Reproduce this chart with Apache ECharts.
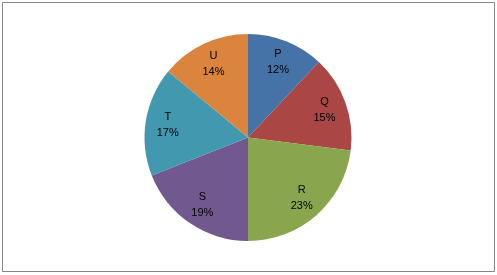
<!DOCTYPE html>
<html><head><meta charset="utf-8">
<script src="https://cdn.jsdelivr.net/npm/echarts@6/dist/echarts.min.js"></script>
<style>html,body{margin:0;padding:0;background:#fff}#c{width:497px;height:275px}</style>
</head><body><div id="c"></div>
<script>
const categories = ['P','Q','R','S','T','U'];
const values = [12,15,23,19,17,14];
const colors = ['#4572A7','#AA4643','#89A54E','#71588F','#4198AF','#DB843D'];

const chart = echarts.init(document.getElementById('c'), null, {renderer:'canvas'});
const data = categories.map((c,i)=>({name:c, value:values[i], itemStyle:{color:colors[i]}}));
const labelData = categories.map((c,i)=>({name:c, value:values[i]}));
chart.setOption({
  animation:false,
  backgroundColor:'#fff',
  graphic:[{type:'rect', shape:{x:2.5,y:2.5,width:492,height:269}, style:{fill:'none', stroke:'#868686', lineWidth:1}, z:-1}],
  series:[
    {type:'pie', center:[248,137.5], radius:[0,103.5], startAngle:90, clockwise:true,
     label:{show:false}, labelLine:{show:false}, silent:true, data:data,
     itemStyle:{borderWidth:0}},
    {type:'pie', center:[248,137.5], radius:[53,103.5], startAngle:90, clockwise:true, silent:true,
     itemStyle:{color:'rgba(0,0,0,0)', borderWidth:0},
     label:{show:true, position:'inside', formatter:p=>p.name+'\n'+p.value+'%', color:'#000',
            fontFamily:'Liberation Sans', fontSize:11, lineHeight:16},
     labelLine:{show:false}, data:labelData}
  ]
});
</script></body></html>
